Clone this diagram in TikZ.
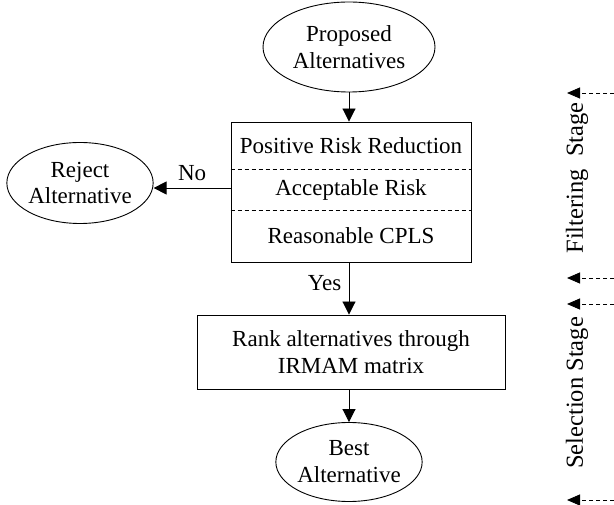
\documentclass[tikz,border=0pt]{standalone}
\usepackage{fontspec}
\setmainfont{Liberation Serif}
\usetikzlibrary{shapes.geometric,arrows.meta,calc}
\begin{document}
\begin{tikzpicture}[x=1pt,y=-1pt,
  font=\fontsize{23}{27}\selectfont,
  oval/.style={ellipse,draw,line width=0.9pt,inner sep=0pt,align=center},
  box/.style={rectangle,draw,line width=0.9pt,inner sep=0pt,align=center},
  txt/.style={inner sep=0pt,align=center},
  arr/.style={-{Triangle[length=13pt,width=13pt]},line width=0.9pt},
  darr/.style={-{Triangle[length=13pt,width=11pt]},line width=0.9pt,dash pattern=on 4pt off 3pt},
  sep/.style={line width=0.8pt,dash pattern=on 4pt off 3pt}]
\useasboundingbox (0,0) rectangle (614,505);

\node[oval,minimum width=172pt,minimum height=90pt] (prop) at (349,47) {Proposed\\Alternatives};

\node[box,minimum width=240pt,minimum height=140pt] (filter) at (351,192) {};
\node[txt] (r1) at (351,146) {Positive Risk Reduction};
\node[txt] (r2) at (351,190) {Acceptable Risk};
\node[txt] (r3) at (351,236) {Reasonable CPLS};
\draw[sep] ($(filter.north west)+(0,48)$) -- ($(filter.north east)+(0,48)$);
\draw[sep] ($(filter.north west)+(0,89)$) -- ($(filter.north east)+(0,89)$);

\node[oval,minimum width=139pt,minimum height=81pt] (reject) at (80,183) {Reject\\Alternative};

\node[box,minimum width=308pt,minimum height=74pt] (rank) at (351,352) {Rank alternatives through\\IRMAM matrix};

\node[oval,minimum width=134pt,minimum height=79pt] (best) at (349,462) {Best\\Alternative};

\coordinate (ys) at (filter.south -| prop.south);
\coordinate (ye) at (rank.north -| prop.south);
\coordinate (bs) at (rank.south -| prop.south);

\draw[arr] (prop.south) -- (prop.south |- filter.north);
\draw[arr] ([yshift=4pt]filter.west) -- ([yshift=4pt]filter.west -| reject.east) node[midway,above=3pt] (no) {No};
\draw[arr] (ys) -- (ye) node[pos=0.4,left=4pt] (yes) {Yes};
\draw[arr] (bs) -- (best.north);

\coordinate (a1s) at (614,93);  \coordinate (a1e) at (567,93);
\coordinate (a2s) at (614,278); \coordinate (a2e) at (567,278);
\coordinate (a3s) at (614,304); \coordinate (a3e) at (567,304);
\coordinate (a4s) at (614,500); \coordinate (a4e) at (567,500);
\draw[darr] (a1s) -- (a1e);
\draw[darr] (a2s) -- (a2e);
\draw[darr] (a3s) -- (a3e);
\draw[darr] (a4s) -- (a4e);

\node[txt,rotate=90,font=\fontsize{24.5}{28}\selectfont] (fstage) at (577,178) {Filtering\ \ Stage};
\node[txt,rotate=90,font=\fontsize{24.5}{28}\selectfont] (sstage) at (577,393) {Selection Stage};
\end{tikzpicture}
\end{document}
